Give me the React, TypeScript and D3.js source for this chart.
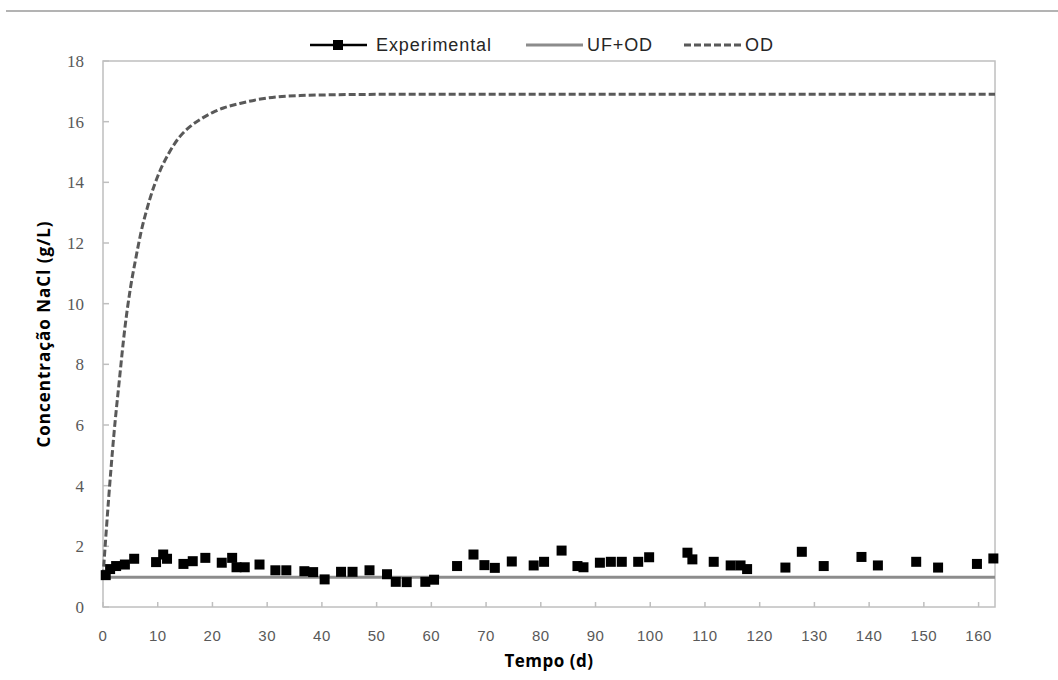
import React from "react";
import * as d3 from "d3";

const expDays = [0.5, 1.3, 2.4, 4, 5.7, 9.7, 11, 11.7, 14.7, 16.4, 18.7, 21.7, 23.6, 24.4, 25.9, 28.6, 31.5, 33.5, 36.8, 38.4, 40.5, 43.5, 45.6, 48.7, 51.9, 53.5, 55.5, 58.9, 60.5, 64.7, 67.7, 69.7, 71.6, 74.7, 78.7, 80.6, 83.8, 86.7, 87.8, 90.8, 92.8, 94.8, 97.8, 99.8, 106.8, 107.7, 111.6, 114.7, 116.5, 117.7, 124.7, 127.7, 131.7, 138.6, 141.6, 148.6, 152.6, 159.7, 162.7];
const expValues = [1.05, 1.25, 1.35, 1.4, 1.59, 1.48, 1.73, 1.59, 1.42, 1.51, 1.62, 1.46, 1.62, 1.31, 1.31, 1.4, 1.21, 1.21, 1.18, 1.15, 0.91, 1.16, 1.16, 1.21, 1.08, 0.83, 0.82, 0.83, 0.9, 1.35, 1.73, 1.38, 1.29, 1.5, 1.37, 1.49, 1.86, 1.35, 1.31, 1.46, 1.49, 1.49, 1.49, 1.64, 1.79, 1.57, 1.49, 1.37, 1.37, 1.25, 1.3, 1.82, 1.35, 1.65, 1.37, 1.49, 1.3, 1.42, 1.6];

const ufDays = [0, 163];
const ufValues = [0.98, 0.98];

const odDays = [0, 1, 2, 3, 4, 5, 6, 7, 8, 9, 10, 12, 14, 16, 18, 20, 22, 25, 28, 32, 36, 40, 50, 60, 80, 100, 120, 140, 163];
const odValues = [1.0, 3.5, 5.7, 7.5, 9.2, 10.5, 11.5, 12.4, 13.1, 13.7, 14.2, 14.95, 15.5, 15.85, 16.1, 16.3, 16.45, 16.6, 16.72, 16.82, 16.86, 16.88, 16.9, 16.9, 16.9, 16.9, 16.9, 16.9, 16.9];

const xTicks = [0, 10, 20, 30, 40, 50, 60, 70, 80, 90, 100, 110, 120, 130, 140, 150, 160];
const yTicks = [0, 2, 4, 6, 8, 10, 12, 14, 16, 18];

const legendLabels = ["Experimental", "UF+OD", "OD"];

export default function App() {
  const left = 103, right = 995, top = 61, bottom = 607;
  const x = d3.scaleLinear().domain([0, 163]).range([left, right]);
  const y = d3.scaleLinear().domain([0, 18]).range([bottom, top]);

  const line = d3.line<[number, number]>().x(d => x(d[0])).y(d => y(d[1]));
  const odLine = d3.line<[number, number]>().x(d => x(d[0])).y(d => y(d[1])).curve(d3.curveMonotoneX);

  const ufPts = ufDays.map((d, i) => [d, ufValues[i]] as [number, number]);
  const odPts = odDays.map((d, i) => [d, odValues[i]] as [number, number]);

  const axisColor = "#bfbfbf";
  const tickColor = "#595959";
  const ms = 10;

  return (
    <svg width={1058} height={680} style={{ position: "absolute", left: 0, top: 0, background: "#fff" }}>
      <line x1={6} x2={1058} y1={11} y2={11} stroke="#9a9a9a" strokeWidth={1.5} />

      {/* plot border */}
      <rect x={left} y={top} width={right - left} height={bottom - top} fill="none" stroke={axisColor} strokeWidth={1.5} />

      {/* y ticks */}
      {yTicks.map(t => (
        <g key={"y" + t}>
          <line x1={left} x2={left + 6} y1={y(t)} y2={y(t)} stroke={axisColor} strokeWidth={1.5} />
          <text x={84} y={y(t)} dy="0.35em" textAnchor="end" fontFamily="'Liberation Serif', serif" fontSize={17} fill={tickColor}>{t}</text>
        </g>
      ))}
      {/* x ticks */}
      {xTicks.map(t => (
        <g key={"x" + t}>
          <line x1={x(t)} x2={x(t)} y1={bottom} y2={bottom - 5} stroke={axisColor} strokeWidth={1.5} />
          <text x={x(t)} y={641} textAnchor="middle" fontFamily="'Liberation Sans', sans-serif" fontSize={15} letterSpacing={0.5} fill={tickColor}>{t}</text>
        </g>
      ))}

      {/* series */}
      <path d={line(ufPts) || ""} fill="none" stroke="#8c8c8c" strokeWidth={3} />
      <path d={odLine(odPts) || ""} fill="none" stroke="#595959" strokeWidth={3} strokeDasharray="7,3" />
      {expDays.map((d, i) => (
        <rect key={"e" + i} x={x(d) - ms / 2} y={y(expValues[i]) - ms / 2} width={ms} height={ms} fill="#000" />
      ))}

      {/* axis titles */}
      <text transform={`translate(50,${(top + bottom) / 2}) rotate(-90)`} textAnchor="middle" fontFamily="'Open Sans', sans-serif" fontWeight="bold" fontSize={17} letterSpacing={1} fill="#000">Concentração NaCl (g/L)</text>
      <text x={549} y={667} textAnchor="middle" fontFamily="'Open Sans', sans-serif" fontWeight="bold" fontSize={17} letterSpacing={0.5} fill="#000">Tempo (d)</text>

      {/* legend */}
      <g fontFamily="'Liberation Sans', sans-serif" fontSize={18} fill="#262626" letterSpacing={0.9}>
        <line x1={310} x2={367} y1={45} y2={45} stroke="#000" strokeWidth={2.5} />
        <rect x={338 - 5} y={45 - 5} width={10} height={10} fill="#000" />
        <text x={376} y={45} dy="0.35em">{legendLabels[0]}</text>
        <line x1={526} x2={583} y1={45} y2={45} stroke="#8c8c8c" strokeWidth={3} />
        <text x={587} y={45} dy="0.35em">{legendLabels[1]}</text>
        <line x1={684} x2={741} y1={45} y2={45} stroke="#595959" strokeWidth={3} strokeDasharray="7,3" />
        <text x={745} y={45} dy="0.35em">{legendLabels[2]}</text>
      </g>
    </svg>
  );
}
